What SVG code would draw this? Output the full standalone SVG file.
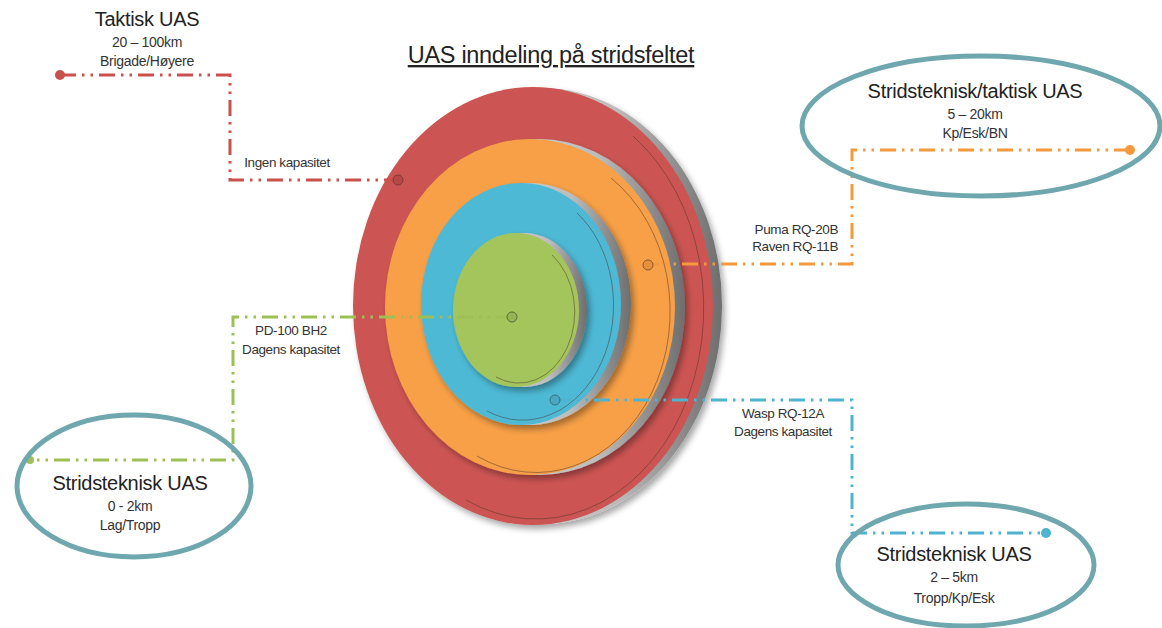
<svg xmlns="http://www.w3.org/2000/svg" width="1162" height="628" viewBox="0 0 1162 628">
<style>
text{font-family:"Liberation Sans",Arial,sans-serif;fill:#222;text-anchor:middle}
.h{font-size:20px;letter-spacing:-0.3px}
.s{font-size:14px;fill:#333;letter-spacing:-0.3px}
.l{font-size:13.5px;fill:#333;letter-spacing:-0.4px}
.c{fill:none;stroke-width:3;stroke-dasharray:16 6 2.5 6 2.5 6}
.oval{fill:none;stroke:#6fa7af;stroke-width:5}
.edge{fill:none;stroke:#4a3028;stroke-width:0.9;opacity:0.55}
</style>
<defs>
<filter id="sh" x="-10%" y="-10%" width="130%" height="130%">
<feGaussianBlur in="SourceAlpha" stdDeviation="3"/>
<feOffset dx="3" dy="4" result="b"/>
<feComponentTransfer><feFuncA type="linear" slope="0.35"/></feComponentTransfer>
<feMerge><feMergeNode/><feMergeNode in="SourceGraphic"/></feMerge>
</filter>
<linearGradient id="rg" x1="0" y1="0" x2="1" y2="0">
<stop offset="0" stop-color="#dcdcdc"/><stop offset="0.7" stop-color="#bdbdbd"/><stop offset="1" stop-color="#6e6e6e"/>
</linearGradient>
</defs>
<g id="title">
<text x="551" y="63" style="font-size:23.5px;letter-spacing:-0.3px;text-decoration:underline">UAS inndeling på stridsfeltet</text>
</g>
<g id="disks">
<g id="disk-red" filter="url(#sh)">
<ellipse cx="542" cy="306" rx="180" ry="218" fill="url(#rg)"/>
<ellipse cx="533" cy="306" rx="180" ry="219" fill="#cc5552"/>
<path class="edge" d="M633 136 A168 211 0 0 1 466 500"/>
</g>
<g id="disk-orange" filter="url(#sh)">
<ellipse cx="539" cy="307" rx="146" ry="168" fill="url(#rg)"/>
<ellipse cx="530" cy="307" rx="145" ry="168" fill="#f7a046"/>
<path class="edge" d="M611 178 A134 161 0 0 1 477 456"/>
</g>
<g id="disk-blue" filter="url(#sh)">
<ellipse cx="530" cy="304" rx="101" ry="121" fill="url(#rg)"/>
<ellipse cx="521" cy="304" rx="100" ry="121" fill="#4eb9d5"/>
<path class="edge" d="M577 213 A91 115 0 0 1 487 411"/>
</g>
<g id="disk-green" filter="url(#sh)">
<ellipse cx="524" cy="310" rx="63" ry="77" fill="url(#rg)"/>
<ellipse cx="516" cy="310" rx="63" ry="77" fill="#a4c45b"/>
<path class="edge" d="M552 255 A56 71 0 0 1 496 377"/>
</g>
</g>
<g id="connectors">
<path class="c" stroke="#c9504d" d="M60 75 H230 V180 H398"/>
<circle cx="60" cy="75" r="5" fill="#c9504d"/>
<circle cx="398" cy="180" r="5" fill="#b64845" stroke="#7a3a38" stroke-width="1"/>
<path class="c" stroke="#f59a3c" d="M1130 150 H852 V264 H648"/>
<circle cx="1130" cy="150" r="5" fill="#f59a3c"/>
<circle cx="648" cy="265" r="5" fill="#e88f3a" stroke="#8a5a30" stroke-width="1"/>
<path class="c" stroke="#9dc054" d="M512 317 H233 V460 H30"/>
<circle cx="30" cy="460" r="4" fill="#9dc054"/>
<circle cx="512" cy="317" r="5" fill="#94b552" stroke="#5d6e40" stroke-width="1"/>
<path class="c" stroke="#4db3cf" d="M555 400 H852 V533 H1046"/>
<circle cx="1046" cy="533" r="5" fill="#4db3cf"/>
<circle cx="555" cy="400" r="5" fill="#47a9c4" stroke="#3a6f80" stroke-width="1"/>
</g>
<g id="node-taktisk">
<text x="147" y="26" class="h">Taktisk UAS</text>
<text x="147" y="47" class="s">20 – 100km</text>
<text x="147" y="66" class="s">Brigade/Høyere</text>
<text x="287" y="167" class="l">Ingen kapasitet</text>
</g>
<g id="node-stridstaktisk">
<ellipse cx="981" cy="126" rx="179" ry="70" class="oval"/>
<text x="975" y="98" class="h">Stridsteknisk/taktisk UAS</text>
<text x="975" y="119" class="s">5 – 20km</text>
<text x="975" y="138" class="s">Kp/Esk/BN</text>
<text x="838" y="234" class="l" style="text-anchor:end">Puma RQ-20B</text>
<text x="838" y="251" class="l" style="text-anchor:end">Raven RQ-11B</text>
</g>
<g id="node-strids-0-2">
<ellipse cx="134" cy="486" rx="117" ry="71" class="oval"/>
<text x="130" y="490" class="h">Stridsteknisk UAS</text>
<text x="130" y="511" class="s">0 - 2km</text>
<text x="130" y="530" class="s">Lag/Tropp</text>
<text x="291" y="335" class="l">PD-100 BH2</text>
<text x="291" y="354" class="l">Dagens kapasitet</text>
</g>
<g id="node-strids-2-5">
<ellipse cx="966" cy="565" rx="128" ry="61" class="oval"/>
<text x="954" y="561" class="h">Stridsteknisk UAS</text>
<text x="954" y="582" class="s">2 – 5km</text>
<text x="954" y="603" class="s">Tropp/Kp/Esk</text>
<text x="783" y="418" class="l">Wasp RQ-12A</text>
<text x="783" y="436" class="l">Dagens kapasitet</text>
</g>
</svg>
